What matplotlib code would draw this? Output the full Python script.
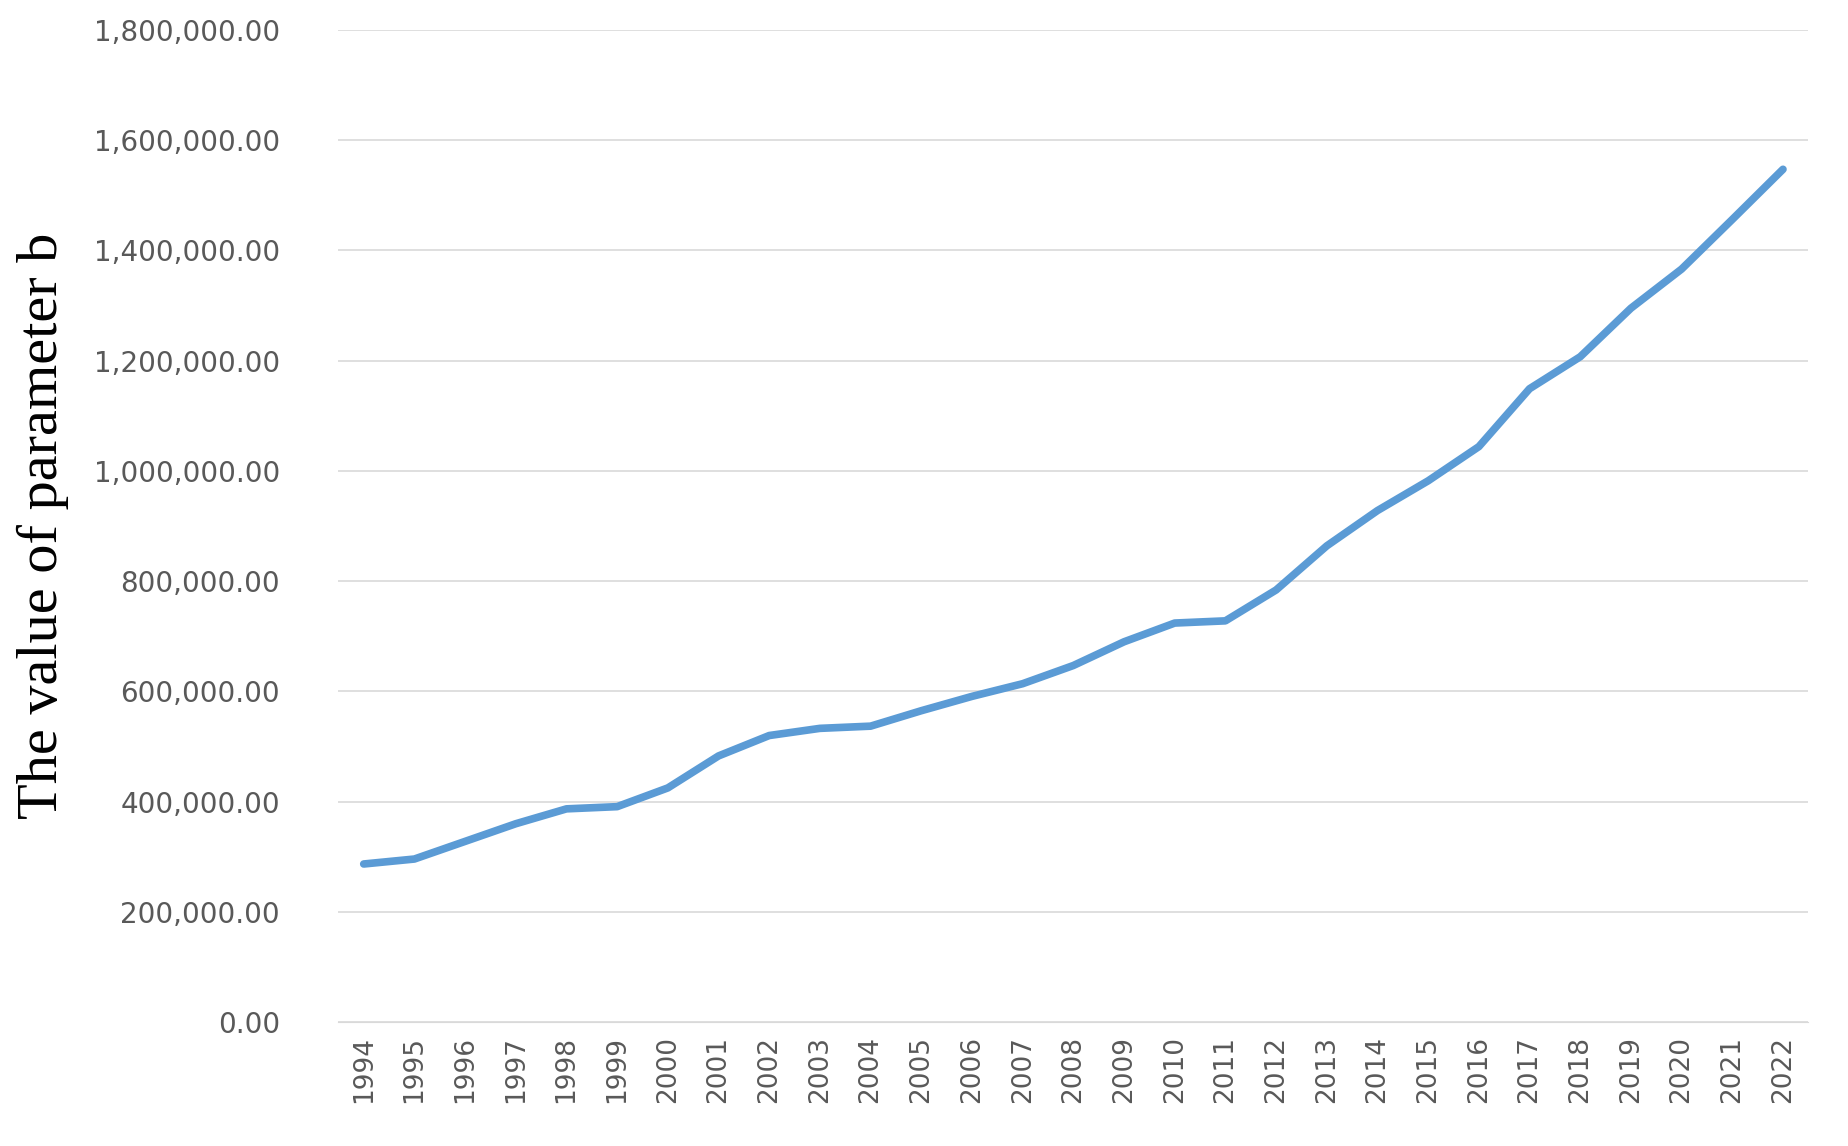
import matplotlib
matplotlib.use("Agg")
import matplotlib.pyplot as plt
from matplotlib.ticker import FuncFormatter

years = [str(y) for y in range(1994, 2023)]
values = [287000, 296000, 328000, 360000, 387000, 391000, 425000, 483000, 520000,
          533000, 537000, 565000, 591000, 614000, 647000, 690000, 724000, 728000,
          784000, 864000, 928000, 982000, 1044000, 1149000, 1207000, 1295000,
          1366000, 1456000, 1547000]

fig = plt.figure(figsize=(18.49, 11.46), dpi=100)
ax = fig.add_axes([0.183, 0.108, 0.795, 0.866])
x = list(range(len(years)))
ax.plot(x, values, color="#5B9BD5", linewidth=5.5, solid_capstyle="round")
ax.set_xlim(-0.5, len(years) - 0.5)
ax.set_ylim(0, 1800000)
ax.set_yticks(range(0, 1800001, 200000))
ax.yaxis.set_major_formatter(FuncFormatter(lambda v, p: f"{v:,.2f}"))
ax.set_xticks(x)
ax.set_xticklabels(years, rotation=90)
ax.grid(axis="y", color="#D9D9D9", linewidth=1.2)
ax.set_axisbelow(True)
for s in ["top", "right", "left"]:
    ax.spines[s].set_visible(False)
ax.spines["bottom"].set_color("#D9D9D9")
ax.tick_params(axis="y", length=0, labelsize=20, labelcolor="#595959", pad=42)
ax.tick_params(axis="x", length=0, labelsize=19, labelcolor="#595959", pad=10)
ax.set_ylabel("The value of parameter b", fontsize=42, family="Liberation Serif", labelpad=18)
fig.savefig("out.png", dpi=100)
